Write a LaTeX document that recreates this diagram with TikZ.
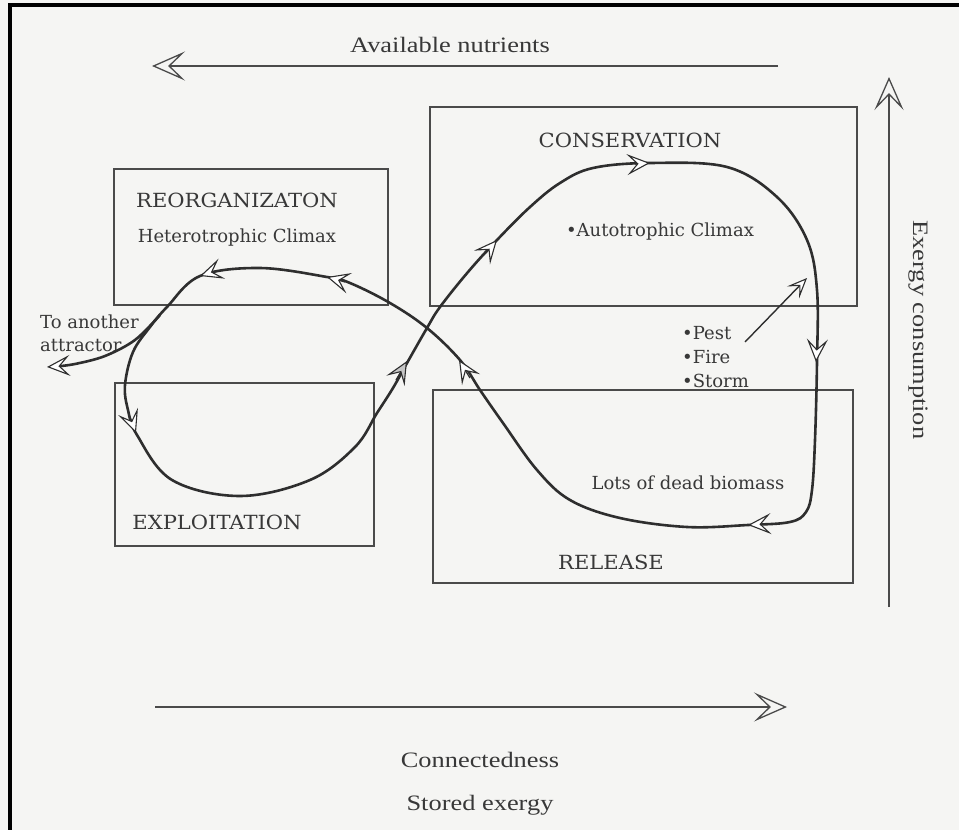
\documentclass[tikz,border=0pt]{standalone}
\usepackage{fontspec}
\setmainfont{DejaVu Serif}
\newfontfamily\ttlfont{DejaVu Serif}[FakeStretch=1.08]
\newfontfamily\axfont{Liberation Serif}[FakeStretch=1.2]
\usetikzlibrary{arrows.meta}
\definecolor{ink}{HTML}{2E2E2E}
\definecolor{boxc}{HTML}{4A4A4A}
\definecolor{paper}{HTML}{F5F5F3}
\definecolor{txt}{HTML}{383838}
\tikzset{
  chev/.style={-{Stealth[length=23pt,width=21pt,inset=10pt,line width=1.1pt,fill=white]}},
  chevgray/.style={-{Stealth[length=23pt,width=21pt,inset=10pt,line width=1.1pt,fill=gray!45]}},
  axchev/.style={line width=2pt,draw=boxc,-{Stealth[length=33pt,width=29pt,inset=15pt,line width=1.3pt,fill=paper]}},
  phase/.style={draw=boxc,line width=1.4pt},
  ttl/.style={text=txt,font=\ttlfont\fontsize{19.5}{21}\selectfont,inner sep=0pt},
  bod/.style={text=txt,font=\fontsize{18}{20}\selectfont,inner sep=0pt},
  axl/.style={text=txt,font=\axfont\fontsize{22}{24}\selectfont,inner sep=0pt},
  loopl/.style={draw=ink,line width=2.6pt}
}
\begin{document}
\begin{tikzpicture}[x=1pt,y=-1pt]
\useasboundingbox (0,0) rectangle (959,830);
\fill[paper] (0,0) rectangle (959,830);
\draw[line width=4pt,black] (10,832) -- (10,5) -- (961,5);

% axes
\coordinate (topA) at (778,66); \coordinate (topB) at (152,66);
\coordinate (rA) at (889,607); \coordinate (rB) at (889,77);
\coordinate (bA) at (155,707); \coordinate (bB) at (787,707);
\draw[axchev] (topA) -- (topB);
\draw[axchev] (rA) -- (rB);
\draw[axchev] (bA) -- (bB);
\node[axl] (avail) at (450,45) {Available nutrients};
\node[axl,rotate=-90] (exc) at (918,330) {Exergy consumption};
\node[axl] (conn) at (480,760) {Connectedness};
\node[axl] (stored) at (480,805) {Stored exergy};

% phase boxes
\draw[phase] (430,107) rectangle (857,306);
\draw[phase] (114,169) rectangle (388,305);
\draw[phase] (115,383) rectangle (374,546);
\draw[phase] (433,390) rectangle (853,583);

\node[ttl] (cons) at (630,140) {CONSERVATION};
\node[bod] (auto) at (660,232) {\textbullet Autotrophic Climax};
\node[ttl] (reor) at (237,200) {REORGANIZATON};
\node[bod] (hete) at (237,238) {Heterotrophic Climax};
\node[ttl] (expl) at (217,522) {EXPLOITATION};
\node[ttl] (rele) at (611,562) {RELEASE};
\node[bod] (dead) at (688,483) {Lots of dead biomass};
\node[bod,anchor=west] (pest) at (682,333) {\textbullet Pest};
\node[bod,anchor=west] (fire) at (682,357) {\textbullet Fire};
\node[bod,anchor=west] (storm) at (682,381) {\textbullet Storm};
\node[bod,anchor=west] (toan) at (40,322) {To another};
\node[bod,anchor=west] (attr) at (40,346) {attractor};

% main loop
\draw[loopl] plot[smooth cycle,tension=0.6] coordinates {
 (240,496) (310,480) (355,447) (377,413) (393,388) (407,363) (427,328)
 (440,307) (468,272) (497,240) (530,207) (560,183) (593,168) (650,163)
 (727,167) (777,197) (807,240) (817,290) (817,362) (815,440) (812,490)
 (806,512) (790,522) (748,525) (687,527) (620,518) (570,500) (537,470)
 (503,423) (480,390) (460,360) (427,328) (390,303) (350,283) (327,277)
 (260,268) (200,276) (167,307) (150,327) (133,352) (125,385) (128,410)
 (137,435) (172,480)};
% branch
\draw[loopl] plot[smooth,tension=0.55] coordinates {(160,315) (135,340) (105,356) (75,364) (52,367)};

% arrowheads on loop
\coordinate (a1) at (136,433); \coordinate (a1b) at (129,414);
\coordinate (a2) at (407,361); \coordinate (a2b) at (396,380);
\coordinate (a3) at (497,240); \coordinate (a3b) at (485,254);
\coordinate (a4) at (650,163); \coordinate (a4b) at (635,164);
\coordinate (a5) at (816,362); \coordinate (a5b) at (817,345);
\coordinate (a6) at (748,525); \coordinate (a6b) at (765,524);
\coordinate (a7) at (459,360); \coordinate (a7b) at (470,378);
\coordinate (a8) at (327,277); \coordinate (a8b) at (345,282);
\coordinate (a9) at (200,276); \coordinate (a9b) at (215,271);
\coordinate (a10) at (47,367); \coordinate (a10b) at (62,366);
\foreach \t/\b in {a1/a1b,a3/a3b,a4/a4b,a5/a5b,a6/a6b,a7/a7b,a8/a8b,a9/a9b,a10/a10b}
  \draw[draw=ink,line width=1.2pt,chev] (\b) -- (\t);
\draw[draw=ink,line width=1.2pt,chevgray] (a2b) -- (a2);

% disturbance arrow
\coordinate (pA) at (745,342); \coordinate (pB) at (807,278);
\draw[draw=ink,line width=1.4pt,-{Stealth[length=20pt,width=17pt,inset=9pt,line width=1.1pt,fill=white]}] (pA) -- (pB);
\end{tikzpicture}
\end{document}
